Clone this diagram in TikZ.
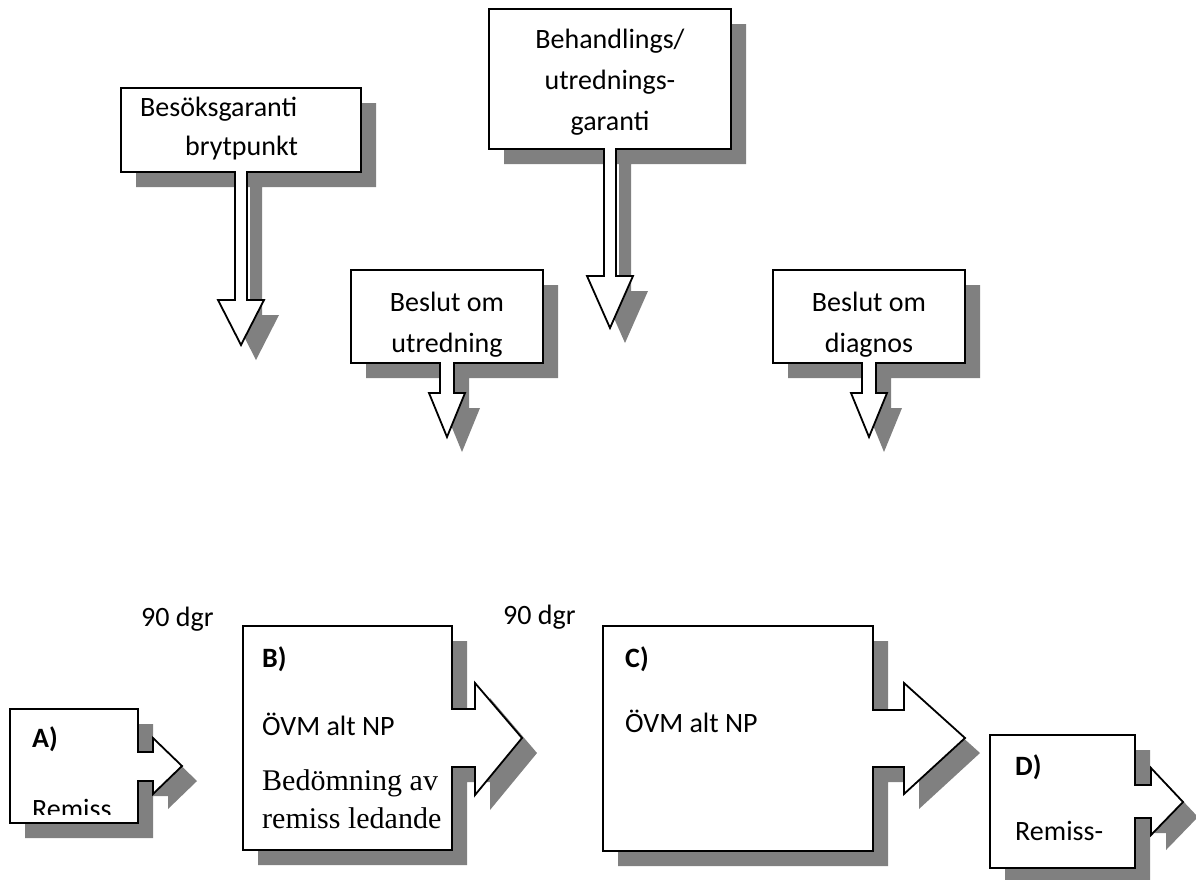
\documentclass[tikz,border=0pt]{standalone}
\usepackage{fontspec}
\setmainfont{Carlito}
\newfontfamily\serifbody{Liberation Serif}
\usepackage{tikz}

\definecolor{shadowgray}{RGB}{128,128,128}
% callout with its grey drop shadow
\newcommand{\shadowcallout}[1]{%
  \fill[shadowgray, shift={(15,15)}] #1;
  \filldraw[fill=white, draw=black, line width=1.8pt, line join=miter] #1;}

\begin{document}
\begin{tikzpicture}[x=1pt, y=-1pt]
    \tikzstyle{txt}=[font=\fontsize{28}{41}\selectfont, inner sep=0pt, align=center]
    \tikzstyle{lbl}=[font=\fontsize{28}{34}\selectfont, inner sep=0pt, anchor=base west]
    \tikzstyle{head}=[lbl, font=\fontsize{28}{34}\selectfont\bfseries]
    \tikzstyle{serif}=[lbl, font=\fontsize{30}{38}\selectfont\serifbody]
    \useasboundingbox (0,0) rectangle (1196,879);

    % down arrow callouts
    \shadowcallout{(121,88) -- (361,88) -- (361,172) -- (247,172) -- (247,300) -- (264,300) -- (241,345)
      -- (218,300) -- (235,300) -- (235,172) -- (121,172) -- cycle}
    \node[lbl] (besok) at (140,116) {Besöksgaranti};
    \node[lbl] (brytpunkt) at (185,155) {brytpunkt};

    \shadowcallout{(351,270) -- (543,270) -- (543,363) -- (454,363) -- (454,393) -- (465,393) -- (447,437)
      -- (429,393) -- (440,393) -- (440,363) -- (351,363) -- cycle}
    \node[txt] (utredning) at (447,325) {Beslut om\\utredning};

    \shadowcallout{(489,9) -- (731,9) -- (731,149) -- (616,149) -- (616,276) -- (633,276) -- (610,328)
      -- (587,276) -- (604,276) -- (604,149) -- (489,149) -- cycle}
    \node[txt] (garanti) at (610,82) {Behandlings/\\utrednings-\\garanti};

    \shadowcallout{(773,270) -- (965,270) -- (965,363) -- (876,363) -- (876,393) -- (887,393) -- (869,437)
      -- (851,393) -- (862,393) -- (862,363) -- (773,363) -- cycle}
    \node[txt] (diagnos) at (869,325) {Beslut om\\diagnos};

    % right arrow callouts
    \shadowcallout{(10,709) -- (138,709) -- (138,752) -- (153,752) -- (153,738) -- (182,766)
      -- (153,794) -- (153,781) -- (138,781) -- (138,823) -- (10,823) -- cycle}
    \node[head] (stegA) at (32,747) {A)};
    \begin{scope}
      \clip (10,709) rectangle (138,814);
      \node[lbl] (remissA) at (32,818) {Remiss};
    \end{scope}

    \shadowcallout{(243,626) -- (452,626) -- (452,709) -- (475,709) -- (475,683) -- (522,738)
      -- (475,795) -- (475,767) -- (452,767) -- (452,850) -- (243,850) -- cycle}
    \node[head] (stegB) at (262,667) {B)};
    \node[lbl] (ovmB) at (262,735) {ÖVM alt NP};
    \node[serif] (bedomning) at (262,790) {Bedömning av};
    \node[serif] (ledande) at (262,828) {remiss ledande};

    \shadowcallout{(603,626) -- (873,626) -- (873,710) -- (904,710) -- (904,683) -- (965,738)
      -- (904,794) -- (904,767) -- (873,767) -- (873,851) -- (603,851) -- cycle}
    \node[head] (stegC) at (625,667) {C)};
    \node[lbl] (ovmC) at (625,732) {ÖVM alt NP};

    \shadowcallout{(990,735) -- (1135,735) -- (1135,785) -- (1151,785) -- (1151,768) -- (1183,802)
      -- (1151,835) -- (1151,818) -- (1135,818) -- (1135,868) -- (990,868) -- cycle}
    \node[head] (stegD) at (1015,775) {D)};
    \node[lbl] (remissD) at (1015,840) {Remiss-};

    % time spans
    \node[lbl] (dgrAB) at (141,626) {90 dgr};
    \node[lbl] (dgrBC) at (503,624) {90 dgr};
\end{tikzpicture}
\end{document}
